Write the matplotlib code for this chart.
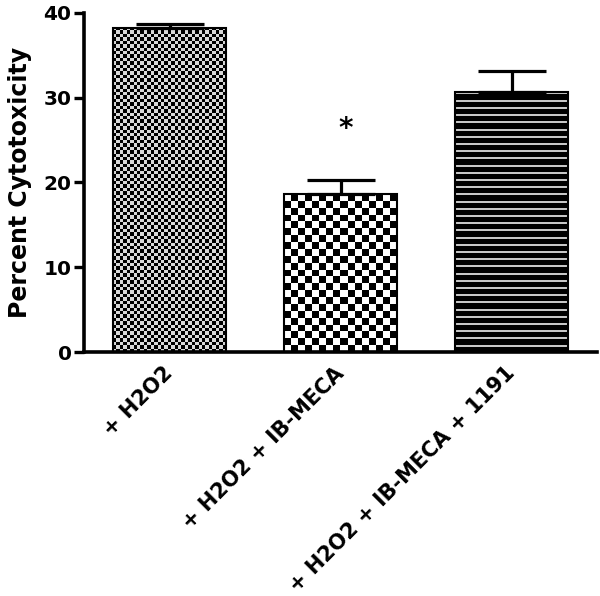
import numpy as np
import matplotlib
matplotlib.use("Agg")
import matplotlib.pyplot as plt

categories = ["+ H2O2", "+ H2O2 + IB-MECA", "+ H2O2 + IB-MECA + 1191"]
values = [38.2, 18.6, 30.6]
errors = [0.45, 1.7, 2.5]
star_index = 1
star_value = 26.3
yticks = [0, 10, 20, 30, 40]

plt.rcParams['font.family'] = ['DejaVu Sans']
plt.rcParams['font.weight'] = 'bold'

fig = plt.figure(figsize=(6.0, 5.96), dpi=100)
ax = fig.add_axes([84/600, 1 - 352/596, (597-84)/600, (352-12.7)/596])
ax.set_xlim(-0.5, 2.5)
ax.set_ylim(0, 40)

x = np.arange(len(categories))
bars = ax.bar(x, values, width=0.66, facecolor='none', edgecolor='black',
              linewidth=1.5, zorder=3)
ax.errorbar(x, values, yerr=[np.zeros(len(errors)), errors], fmt='none',
            ecolor='black', elinewidth=2.3, capsize=24.5, capthick=2.3, zorder=2)

fig.canvas.draw()
ppx = ax.transData.transform((1, 0))[0] - ax.transData.transform((0, 0))[0]
ppy = ax.transData.transform((0, 1))[1] - ax.transData.transform((0, 0))[1]

def pattern(kind, wpx, hpx):
    if kind == 'fine':
        c = 3.4
        nc, nr = max(1, int(round(wpx / c))), max(1, int(round(hpx / c)))
        ii, jj = np.indices((nr, nc))
        a = ((ii + jj) % 2).astype(float)
        img = np.where(a > 0, 0.0, 0.85)
    elif kind == 'coarse':
        c = 7.0
        nc, nr = max(1, int(round(wpx / c))), max(1, int(round(hpx / c)))
        ii, jj = np.indices((nr, nc))
        a = ((ii + jj) % 2).astype(float)
        img = np.where(a > 0, 0.0, 1.0)
    else:
        period = 7.2
        nr = max(1, int(round(hpx)))
        rows = np.arange(nr)
        line = (rows % period) < 2.0
        img = np.where(line, 0.78, 0.0)[:, None] * np.ones((1, 4))
    return img

kinds = ['fine', 'coarse', 'stripes']
for patch, kind in zip(bars.patches, kinds):
    bx, by = patch.get_x(), patch.get_y()
    bw, bh = patch.get_width(), patch.get_height()
    img = pattern(kind, bw * ppx, bh * ppy)
    im = ax.imshow(img, cmap='gray', vmin=0, vmax=1, extent=[bx, bx + bw, by, by + bh],
                   aspect='auto', interpolation='nearest', zorder=1, origin='upper')
    im.set_clip_path(patch)

ax.set_xlim(-0.5, 2.5)
ax.set_ylim(0, 40)

ax.text(x[star_index] + 0.03, star_value, '*', ha='center', va='center',
        fontsize=20, fontweight='bold')

for s in ['top', 'right']:
    ax.spines[s].set_visible(False)
for s in ['left', 'bottom']:
    ax.spines[s].set_linewidth(2.6)

ax.set_yticks(yticks)
ax.tick_params(axis='y', length=7, width=2.4, labelsize=14.5, pad=2)
ax.set_xticks(x)
ax.set_xticklabels(categories, rotation=45, ha='right', va='center',
                   rotation_mode='anchor', fontsize=15, fontweight='bold')
ax.tick_params(axis='x', length=0, pad=13)
for lab in ax.get_yticklabels():
    lab.set_fontweight('bold')

ax.set_ylabel('Percent Cytotoxicity', fontsize=17, fontweight='bold', labelpad=8)

fig.savefig('out.png', dpi=100)
